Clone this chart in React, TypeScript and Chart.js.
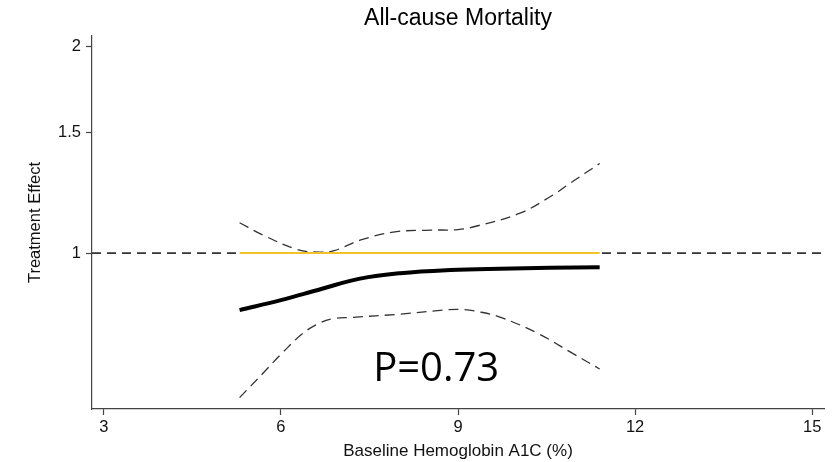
import React, { useEffect, useRef } from "react";
import { Chart, registerables } from "chart.js";

Chart.register(...registerables);

const chartTitle = "All-cause Mortality";
const xAxisTitle = "Baseline Hemoglobin A1C (%)";
const yAxisTitle = "Treatment Effect";
const pValueLabel = "P=0.73";
const pValueAt = { x: 8.63, y: 0.651 };

const xMin = 2.8;
const xMax = 15.2;
const yMin = 0.593;
const yMax = 2.07;
const xTicks = [3, 6, 9, 12, 15];
const yTicks = [1, 1.5, 2];

const referenceEffect = 1;

const mainX = [5.3, 6.0, 6.67, 7.34, 8.02, 8.87, 9.71, 11.4];
const mainY = [0.826, 0.854, 0.886, 0.918, 0.935, 0.945, 0.949, 0.954];

const upperX = [5.3, 5.7, 6.28, 6.65, 6.9, 7.34, 7.9, 8.53, 9.0, 9.32, 10.05, 10.61, 10.9, 11.4];
const upperY = [1.107, 1.062, 1.012, 1.003, 1.008, 1.044, 1.073, 1.08, 1.082, 1.095, 1.143, 1.215, 1.264, 1.35];

const lowerX = [5.3, 5.7, 6.04, 6.38, 6.67, 6.9, 7.18, 8.02, 8.75, 9.04, 9.37, 9.71, 10.34, 10.9, 11.4];
const lowerY = [0.616, 0.669, 0.718, 0.765, 0.792, 0.803, 0.806, 0.815, 0.826, 0.828, 0.821, 0.807, 0.765, 0.718, 0.678];

const nullRangeX = [5.3, 11.4];

const toPoints = (xs: number[], ys: number[]) => xs.map((x, i) => ({ x, y: ys[i] }));

const pValuePlugin = {
  id: "pValueText",
  afterDatasetsDraw(chart: any) {
    const { ctx, scales } = chart;
    const px = scales.x.getPixelForValue(pValueAt.x);
    const py = scales.y.getPixelForValue(pValueAt.y);
    ctx.save();
    ctx.font = '40px "Open Sans", "Noto Sans", sans-serif';
    ctx.fillStyle = "#000";
    ctx.textAlign = "center";
    ctx.textBaseline = "alphabetic";
    ctx.fillText(pValueLabel, px, py);
    ctx.restore();
  },
};

export default function App() {
  const ref = useRef<HTMLCanvasElement | null>(null);

  useEffect(() => {
    if (!ref.current) return;
    const family = '"Liberation Sans", Arial, sans-serif';
    const axisFont = { family, size: 16.5 };
    const chart = new Chart(ref.current, {
      type: "line",
      data: {
        datasets: [
          {
            label: "Estimate",
            data: toPoints(mainX, mainY),
            borderColor: "#000",
            borderWidth: 4,
            pointRadius: 0,
            tension: 0.4,
            order: 0,
          },
          {
            label: "Null range",
            data: toPoints(nullRangeX, [referenceEffect, referenceEffect]),
            borderColor: "#F2C22A",
            borderWidth: 2,
            pointRadius: 0,
            order: 1,
          },
          {
            label: "Upper CI",
            data: toPoints(upperX, upperY),
            borderColor: "#333",
            borderWidth: 1.3,
            borderDash: [10, 6],
            pointRadius: 0,
            tension: 0.4,
            order: 2,
          },
          {
            label: "Lower CI",
            data: toPoints(lowerX, lowerY),
            borderColor: "#333",
            borderWidth: 1.3,
            borderDash: [10, 6],
            pointRadius: 0,
            tension: 0.4,
            order: 3,
          },
          {
            label: "Reference",
            data: toPoints([xMin, xMax], [referenceEffect, referenceEffect]),
            borderColor: "#333",
            borderWidth: 1.6,
            borderDash: [9, 6],
            pointRadius: 0,
            order: 4,
          },
        ],
      },
      options: {
        responsive: false,
        animation: false,
        devicePixelRatio: 1,
        layout: { padding: { left: 0, right: 10, top: 0, bottom: 0 } },
        plugins: {
          legend: { display: false },
          tooltip: { enabled: false },
          title: {
            display: true,
            text: chartTitle,
            fullSize: false,
            color: "#000",
            font: { family, size: 23, weight: "normal" },
            padding: { top: 5, bottom: 3.4 },
          },
        },
        scales: {
          x: {
            type: "linear",
            min: xMin,
            max: xMax,
            afterBuildTicks: (scale: any) => {
              scale.ticks = xTicks.map((value) => ({ value }));
            },
            afterFit: (scale: any) => {
              scale.height = 53;
            },
            ticks: {
              color: "#111",
              font: axisFont,
              padding: 3,
              maxRotation: 0,
              callback: (v: any) => String(v),
            },
            grid: {
              display: true,
              drawOnChartArea: false,
              drawTicks: true,
              tickLength: 6,
              tickColor: "#444",
              tickWidth: 1.2,
            },
            border: { display: true, color: "#444", width: 1.2 },
            title: {
              display: true,
              text: xAxisTitle,
              color: "#111",
              font: { family, size: 17 },
              padding: { top: 0, bottom: 0 },
            },
          },
          y: {
            type: "logarithmic",
            min: yMin,
            max: yMax,
            afterBuildTicks: (scale: any) => {
              scale.ticks = yTicks.map((value) => ({ value }));
            },
            afterFit: (scale: any) => {
              scale.width = 92;
            },
            ticks: {
              color: "#111",
              font: axisFont,
              padding: 5,
              callback: (v: any) => String(v),
            },
            grid: {
              display: true,
              drawOnChartArea: false,
              drawTicks: true,
              tickLength: 6,
              tickColor: "#444",
              tickWidth: 1.2,
            },
            border: { display: true, color: "#444", width: 1.2 },
            title: {
              display: true,
              text: yAxisTitle,
              color: "#111",
              font: { family, size: 16.5 },
              padding: { top: 26, bottom: 0 },
            },
          },
        },
      },
      plugins: [pValuePlugin],
    } as any);
    return () => chart.destroy();
  }, []);

  return (
    <div style={{ position: "absolute", left: 0, top: 0, width: 834, height: 462, background: "#fff" }}>
      <canvas ref={ref} width={834} height={462} />
    </div>
  );
}
